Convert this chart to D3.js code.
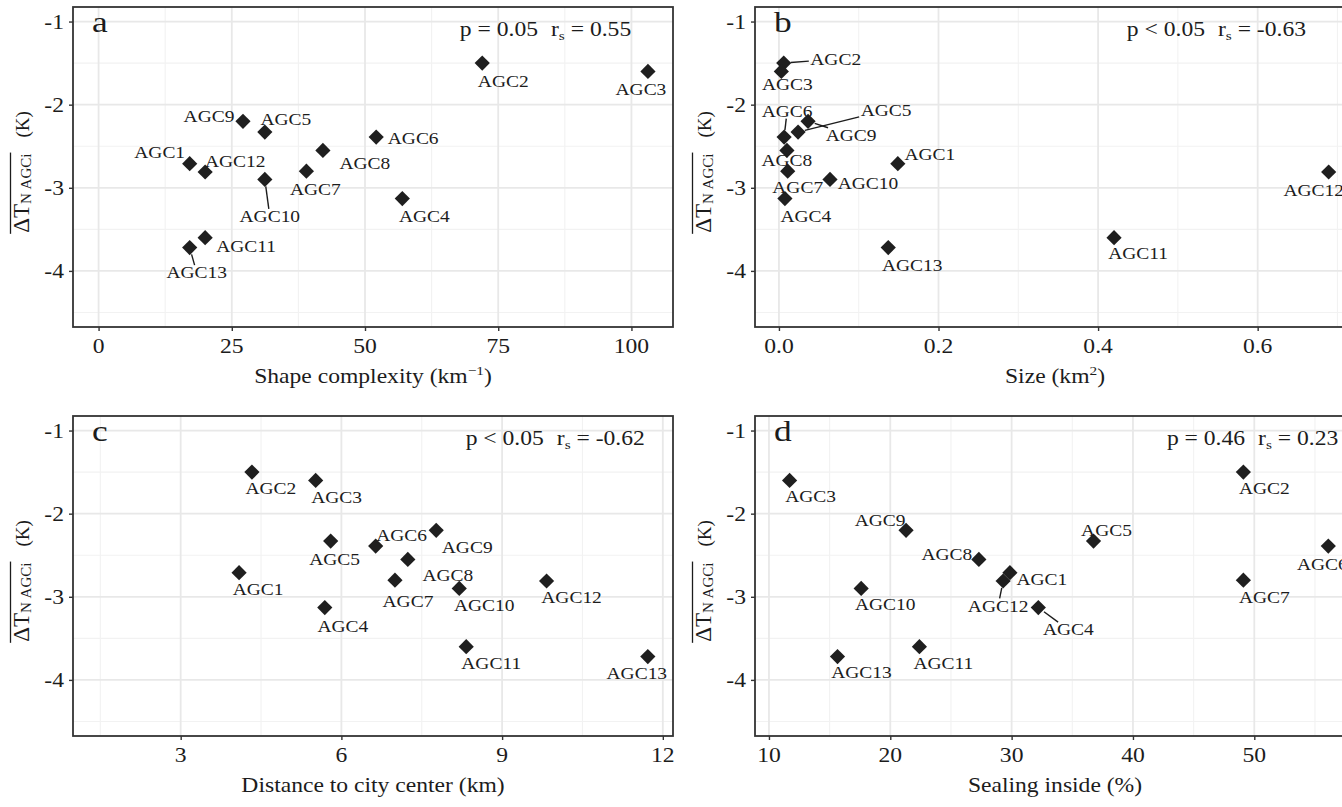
<!DOCTYPE html>
<html>
<head>
<meta charset="utf-8">
<script src="https://cdn.jsdelivr.net/npm/d3@7"></script>
<style>
  body { margin: 0; background: #fff; }
  svg { display: block; }
  text { font-family: "Liberation Serif", "Times New Roman", serif; fill: #1c1c1c; white-space: pre; }
</style>
</head>
<body>
<svg id="chart" width="1342" height="807"></svg>
<script>
// ---- data: mean cooling of each green area (K) and its descriptors ----
const agcNames = ["AGC1","AGC2","AGC3","AGC4","AGC5","AGC6","AGC7","AGC8","AGC9","AGC10","AGC11","AGC12","AGC13"];
const deltaT = [-2.71, -1.50, -1.60, -3.13, -2.33, -2.39, -2.80, -2.55, -2.20, -2.90, -3.60, -2.81, -3.72];
const shapeComplexity = [17.1, 72.0, 103.1, 57.0, 31.2, 52.1, 39.0, 42.1, 27.1, 31.2, 20.0, 20.0, 17.1];
const sizeKm2 = [0.149, 0.006, 0.003, 0.0075, 0.024, 0.0065, 0.011, 0.010, 0.0365, 0.064, 0.420, 0.689, 0.137];
const distanceKm = [4.09, 4.33, 5.52, 5.69, 5.80, 6.64, 7.00, 7.24, 7.77, 8.20, 8.33, 9.83, 11.72];
const sealingPct = [29.86, 49.1, 11.7, 32.2, 36.75, 56.1, 49.1, 27.3, 21.3, 17.6, 22.4, 29.3, 15.65];

// ---- axis ticks and statistics ----
const yTicks = [-1, -2, -3, -4];
const shapeTicks = [0, 25, 50, 75, 100];
const sizeTicks = [0.0, 0.2, 0.4, 0.6];
const distanceTicks = [3, 6, 9, 12];
const sealingTicks = [10, 20, 30, 40, 50];
const panelTags = ["a", "b", "c", "d"];
const pValues = ["p = 0.05", "p < 0.05", "p < 0.05", "p = 0.46"];
const rsValues = ["0.55", "-0.63", "-0.62", "0.23"];

// ---- layout ----
const SX = 1.18;              // horizontal stretch applied to lettering
const PW = 600, PH = 320;     // panel size
const yDomain = [-4.675, -0.825];
const yMinor = [-1.5, -2.5, -3.5, -4.5];

// label placement (offset of label centre from its point, px) and leader lines
const panels = [
  { left: 73, top: 7, x: shapeComplexity, ticks: shapeTicks, fmt: d => String(d),
    domain: [-4.8, 107.8], minor: [12.5, 37.5, 62.5, 87.5], statX: 67.8,
    title: [["Shape complexity (km", 0], ["\u22121", 1], [")", 0]],
    offsets: { AGC1:[-30,-11], AGC2:[21,18], AGC3:[-7,18], AGC4:[22,18], AGC5:[21,-13], AGC6:[37,1], AGC7:[9,18],
               AGC8:[42,13], AGC9:[-34,-5], AGC10:[5,37], AGC11:[41,9], AGC12:[30,-11], AGC13:[7,25] },
    leaders: ["AGC10", "AGC13"] },
  { left: 755, top: 7, x: sizeKm2, ticks: sizeTicks, fmt: d3.format(".1f"),
    domain: [-0.03, 0.722], minor: [0.1, 0.3, 0.5, 0.7], statX: 0.436,
    title: [["Size (km", 0], ["2", 1], [")", 0]],
    offsets: { AGC1:[32,-9], AGC2:[52,-4], AGC3:[6,13], AGC4:[21,18], AGC5:[88,-22], AGC6:[3,-26], AGC7:[10,16],
               AGC8:[0,10], AGC9:[43,14], AGC10:[38,4], AGC11:[24,16], AGC12:[-15,18], AGC13:[24,18] },
    leaders: ["AGC2", "AGC5", "AGC6", "AGC9"] },
  { left: 73, top: 416, x: distanceKm, ticks: distanceTicks, fmt: d => String(d),
    domain: [0.99, 12.19], minor: [1.5, 4.5, 7.5, 10.5], statX: 8.32,
    title: [["Distance to city center (km)", 0]],
    offsets: { AGC1:[19,17], AGC2:[19,16], AGC3:[21,17], AGC4:[18,19], AGC5:[4,18], AGC6:[26,-11], AGC7:[13,21],
               AGC8:[40,16], AGC9:[31,17], AGC10:[25,17], AGC11:[25,17], AGC12:[25,16], AGC13:[-11,17] },
    leaders: [] },
  { left: 755, top: 416, x: sealingPct, ticks: sealingTicks, fmt: d => String(d),
    domain: [8.85, 58.3], minor: [15, 25, 35, 45, 55], statX: 42.8,
    title: [["Sealing inside (%)", 0]],
    offsets: { AGC1:[32,7], AGC2:[21,16], AGC3:[21,16], AGC4:[30,22], AGC5:[13,-11], AGC6:[-6,18], AGC7:[21,17],
               AGC8:[-32,-5], AGC9:[-26,-10], AGC10:[24,16], AGC11:[24,17], AGC12:[-5,25], AGC13:[24,16] },
    leaders: ["AGC12", "AGC4"] }
];

const svg = d3.select("#chart");

function stretched(parent, x, y, anchor, size) {
  return parent.append("text")
    .attr("transform", `translate(${x},${y}) scale(${SX},1)`)
    .attr("text-anchor", anchor)
    .attr("font-size", size);
}

function diamond(r) {
  return `M0,${-r}L${r},0L0,${r}L${-r},0Z`;
}

panels.forEach((p, i) => {
  const g = svg.append("g");
  const xs = d3.scaleLinear().domain(p.domain).range([p.left, p.left + PW]);
  const ys = d3.scaleLinear().domain(yDomain).range([p.top + PH, p.top]);
  const bottom = p.top + PH, right = p.left + PW;

  // grid
  const grid = g.append("g");
  p.minor.forEach(v => grid.append("line").attr("x1", xs(v)).attr("x2", xs(v)).attr("y1", p.top).attr("y2", bottom)
    .attr("stroke", "#f2f2f2").attr("stroke-width", 1.1));
  yMinor.forEach(v => grid.append("line").attr("x1", p.left).attr("x2", right).attr("y1", ys(v)).attr("y2", ys(v))
    .attr("stroke", "#f2f2f2").attr("stroke-width", 1.1));
  p.ticks.forEach(v => grid.append("line").attr("x1", xs(v)).attr("x2", xs(v)).attr("y1", p.top).attr("y2", bottom)
    .attr("stroke", "#e8e8e8").attr("stroke-width", 1.8));
  yTicks.forEach(v => grid.append("line").attr("x1", p.left).attr("x2", right).attr("y1", ys(v)).attr("y2", ys(v))
    .attr("stroke", "#e8e8e8").attr("stroke-width", 1.8));

  // axes: ticks + labels
  const xAxis = d3.axisBottom(xs).tickValues(p.ticks).tickFormat(p.fmt).tickSizeInner(4).tickSizeOuter(0);
  const xg = g.append("g").attr("transform", `translate(0,${bottom})`).call(xAxis);
  xg.select(".domain").remove();
  xg.selectAll(".tick line").attr("stroke", "#333").attr("stroke-width", 1.4);
  xg.selectAll(".tick text").remove();
  xg.selectAll(".tick").each(function (d) {
    stretched(g, xs(d), bottom + 26, "middle", 20).text(p.fmt(d));
  });

  const yAxis = d3.axisLeft(ys).tickValues(yTicks).tickSizeInner(4).tickSizeOuter(0);
  const yg = g.append("g").attr("transform", `translate(${p.left},0)`).call(yAxis);
  yg.select(".domain").remove();
  yg.selectAll(".tick line").attr("stroke", "#333").attr("stroke-width", 1.4);
  yg.selectAll(".tick text").remove();
  yg.selectAll(".tick").each(function (d) {
    stretched(g, p.left - 9, ys(d) + 7, "end", 20).text(String(d));
  });

  // x-axis title
  const xt = stretched(g, (p.left + right) / 2, bottom + 56, "middle", 20);
  p.title.forEach(([s, sup], k) => {
    const ts = xt.append("tspan").text(s);
    if (sup) ts.attr("font-size", 13).attr("dy", -8);
    else if (k > 0) ts.attr("dy", 8);
  });

  // y-axis title: overline(ΔT[N AGCi]) (K)
  const yt = g.append("g").attr("transform", `translate(${p.left - 44},${p.top + 165}) rotate(-90)`);
  const ytx = yt.append("text").attr("font-size", 23);
  const t1 = ytx.append("tspan").text("\u0394T");
  const t2 = ytx.append("tspan").attr("font-size", 15).attr("dy", 2).text("N\u00a0AGCi");
  const gap = 16;
  const t3 = ytx.append("tspan").attr("font-size", 19).attr("dy", -2).attr("dx", gap).text("(K)");
  const l1 = t1.node().getComputedTextLength();
  const l2 = t2.node().getComputedTextLength();
  const l3 = t3.node().getComputedTextLength();
  const total = l1 + l2 + gap + l3;
  ytx.attr("x", -total / 2);
  yt.append("line").attr("x1", -total / 2 - 1).attr("x2", -total / 2 + l1 + l2 + 1)
    .attr("y1", -18.5).attr("y2", -18.5).attr("stroke", "#1c1c1c").attr("stroke-width", 1.3);

  // leader lines, points, labels
  const pts = agcNames.map((n, j) => ({ name: n, px: xs(p.x[j]), py: ys(deltaT[j]) }));
  const labelG = g.append("g");
  const leaderG = g.insert("g", () => labelG.node());
  const pointG = g.insert("g", () => labelG.node());

  pts.forEach(d => {
    pointG.append("path").attr("d", diamond(7.6)).attr("transform", `translate(${d.px},${d.py})`).attr("fill", "#1f1f1f");
    const [dx, dy] = p.offsets[d.name];
    const cx = d.px + dx, cy = d.py + dy;
    const lt = stretched(labelG, cx, cy + 5.6, "middle", 16.5).text(d.name);
    if (p.leaders.includes(d.name)) {
      const w = lt.node().getComputedTextLength() * SX;
      const hw = w / 2 + 1.5, hh = 7.5;
      const vx = cx - d.px, vy = cy - d.py;
      const s = Math.min(vx ? hw / Math.abs(vx) : Infinity, vy ? hh / Math.abs(vy) : Infinity);
      const ex = cx - vx * s, ey = cy - vy * s;
      const len = Math.hypot(vx, vy);
      const sx = d.px + vx / len * 7, sy = d.py + vy / len * 7;
      leaderG.append("line").attr("x1", sx).attr("y1", sy).attr("x2", ex).attr("y2", ey)
        .attr("stroke", "#1c1c1c").attr("stroke-width", 1.4);
    }
  });

  // panel tag and statistics
  stretched(g, p.left + 19, ys(-1) + 10, "start", 30).text(panelTags[i]);
  const st = stretched(g, xs(p.statX), ys(-1) + 14, "start", 20);
  st.append("tspan").text(pValues[i]);
  st.append("tspan").attr("dx", 11).text("r");
  st.append("tspan").attr("font-size", 13).attr("dy", 4).text("s");
  st.append("tspan").attr("dy", -4).text(" = " + rsValues[i]);

  // panel border
  g.append("rect").attr("x", p.left).attr("y", p.top).attr("width", PW).attr("height", PH)
    .attr("fill", "none").attr("stroke", "#333").attr("stroke-width", 1.8);
});
</script>
</body>
</html>
